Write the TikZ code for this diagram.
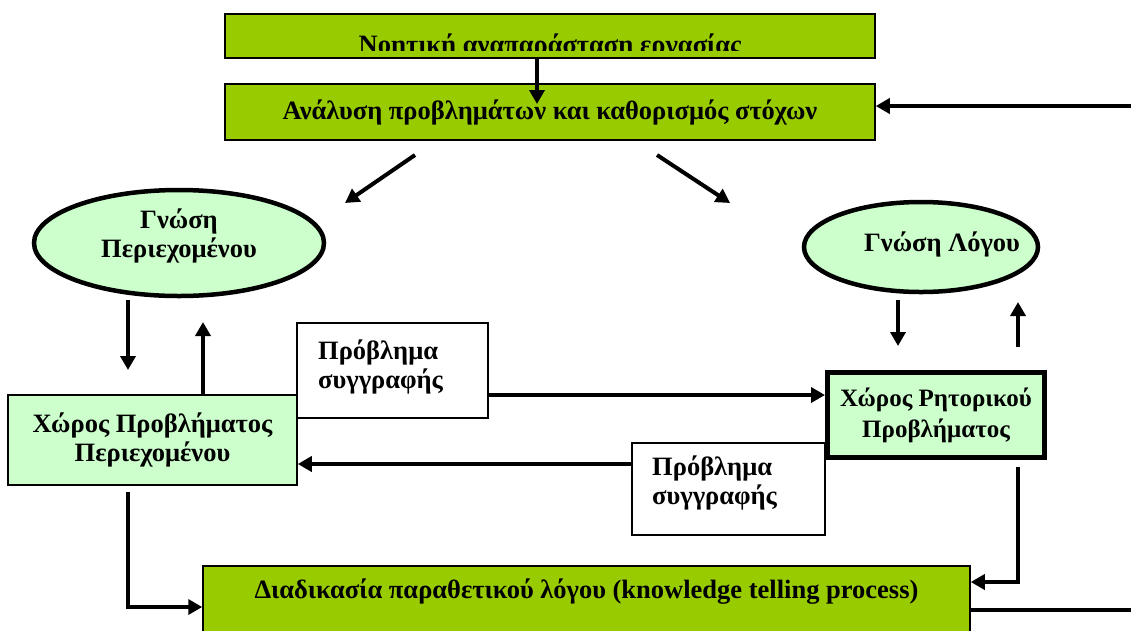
\documentclass[tikz,border=0pt]{standalone}
\usepackage{fontspec}
\setmainfont{Liberation Serif}
\usetikzlibrary{arrows.meta,shapes.geometric}
\definecolor{olivegreen}{HTML}{99CC00}
\definecolor{palegreen}{HTML}{CCFFCC}
\begin{document}
\begin{tikzpicture}[x=1pt,y=-1pt,
  every node/.style={font=\bfseries\fontsize{26.5}{29}\selectfont, inner sep=0pt},
  olivebox/.style={draw=black, line width=1.5pt, fill=olivegreen, rectangle},
  greenbox/.style={draw=black, line width=1.5pt, fill=palegreen, rectangle, align=center},
  thickbox/.style={draw=black, line width=5pt, fill=palegreen, rectangle, align=center,
    font=\bfseries\fontsize{25}{31}\selectfont},
  whitebox/.style={draw=black, line width=1.5pt, fill=white, rectangle},
  knowledge/.style={draw=black, line width=4.5pt, fill=palegreen, ellipse, align=center},
  arr/.style={line width=4pt, -{Triangle[length=14pt,width=15pt]}},
  plainline/.style={line width=4pt}]
\useasboundingbox[fill=white] (0,0) rectangle (1131,630);

% top boxes
\node[olivebox, minimum width=650, minimum height=44] (top) at (550,36) {};
\begin{scope}
  \clip (225,14) rectangle (875,50);
  \node[anchor=base] (toptext) at (550,53) {Νοητική αναπαράσταση εργασίας};
\end{scope}
\node[olivebox, minimum width=650, minimum height=56] (analysis) at (550,112) {Ανάλυση προβλημάτων και καθορισμός στόχων};

% ellipses
\node[knowledge, minimum width=290, minimum height=106] (gp) at (179,243) {};
\node[align=center] (gpt) at (179,236) {Γνώση\\Περιεχομένου};
\node[knowledge, minimum width=234, minimum height=90] (gl) at (921,247) {};
\node (glt) at (942,244) {Γνώση Λόγου};

% problem spaces
\node[greenbox, minimum width=289, minimum height=90] (cps) at (152.5,440) {Χώρος Προβλήματος\\Περιεχομένου};
\node[thickbox, minimum width=217, minimum height=85] (rps) at (936,415) {Χώρος Ρητορικού\\Προβλήματος};

% writing problem boxes
\node[whitebox, minimum width=191, minimum height=95] (wb1) at (392.5,370.5) {};
\node[anchor=north west, align=left] (wb1t) at (318,340) {Πρόβλημα\\συγγραφής};
\node[whitebox, minimum width=193, minimum height=92] (wb2) at (728.5,489) {};
\node[anchor=north west, align=left] (wb2t) at (652,456) {Πρόβλημα\\συγγραφής};

% bottom process box
\node[olivebox, minimum width=767, minimum height=80, anchor=north] (proc) at (586.5,565) {};
\node (proct) at (586.5,592) {Διαδικασία παραθετικού λόγου (knowledge telling process)};

% coordinates
\coordinate (t1) at (537,104);
\coordinate (re) at (1131,106);
\coordinate (d1s) at (415,155);
\coordinate (d1e) at (345,203);
\coordinate (d2s) at (657,155);
\coordinate (d2e) at (730,203);
\coordinate (l1s) at (128,300);
\coordinate (l1e) at (128,370);
\coordinate (l2e) at (203,322);
\coordinate (r1s) at (898,300);
\coordinate (r1e) at (898,346);
\coordinate (r2s) at (1018,347);
\coordinate (r2e) at (1018,302);
\coordinate (a1) at (488,395);
\coordinate (a2) at (632,464);
\coordinate (lb) at (128,492);
\coordinate (lbc) at (128,607);
\coordinate (rb) at (1018,467);
\coordinate (rbc) at (1018,582);
\coordinate (out) at (1131,610);

% connectors
\draw[arr] (top.south -| t1) -- (t1);
\draw[arr] (re) -- (re -| analysis.east);
\draw[arr] (d1s) -- (d1e);
\draw[arr] (d2s) -- (d2e);
\draw[arr] (l1s) -- (l1e);
\draw[arr] (l2e |- cps.north) -- (l2e);
\draw[arr] (r1s) -- (r1e);
\draw[arr] (r2s) -- (r2e);
\draw[arr] (a1) -- (a1 -| rps.west);
\draw[arr] (a2) -- (a2 -| cps.east);
\draw[arr] (lb) -- (lbc) -- (lbc -| proc.west);
\draw[arr] (rb) -- (rbc) -- (rbc -| proc.east);
\draw[plainline] (out -| proc.east) -- (out);
\end{tikzpicture}
\end{document}
